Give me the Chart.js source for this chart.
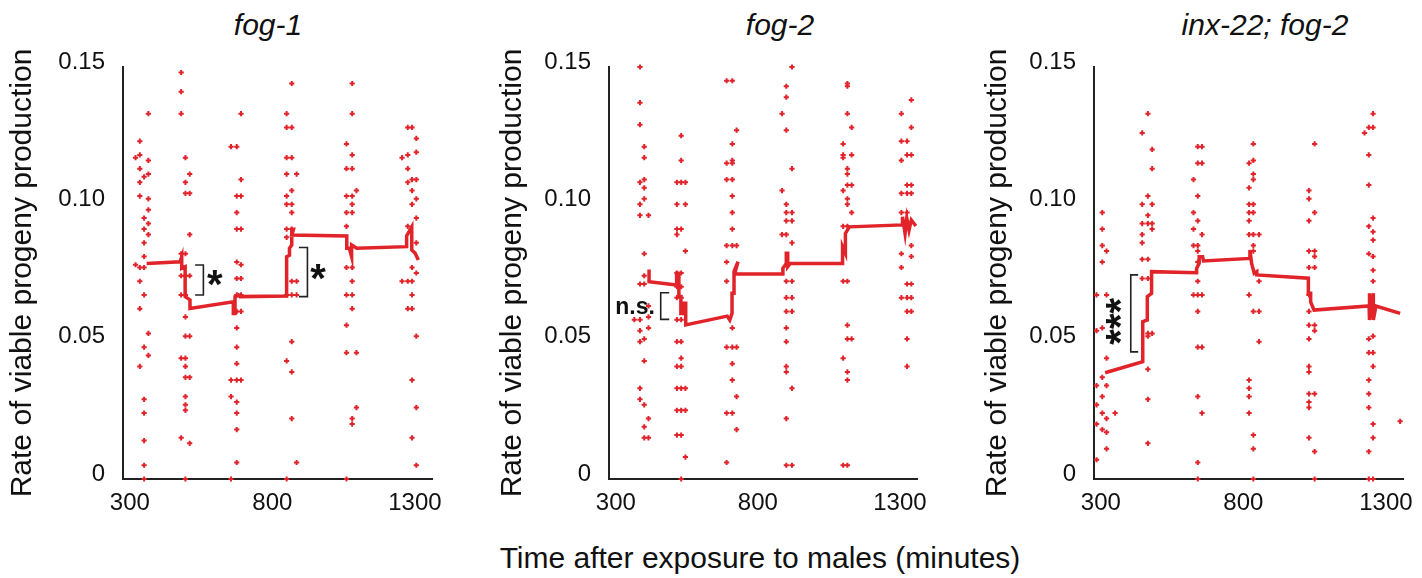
<!DOCTYPE html>
<html>
<head>
<meta charset="utf-8">
<script src="https://cdn.jsdelivr.net/npm/chart.js@4.4.1/dist/chart.umd.min.js"></script>
<style>
  body { margin: 0; background: #fff; width: 1422px; height: 578px; overflow: hidden; position: relative; }
  canvas { position: absolute; top: 0; }
  .ttl { position: absolute; top: 10px; font: italic 30px "Liberation Sans", Arial, sans-serif; line-height: 30px; color: #111; transform: translateX(-50%); white-space: nowrap; }
  #xtitle { position: absolute; top: 543px; left: 760px; font: 30px "Liberation Sans", Arial, sans-serif; line-height: 30px; color: #111; transform: translateX(-50%); white-space: nowrap; }
</style>
</head>
<body>
<div id="xtitle">Time after exposure to males (minutes)</div>
<script>
const timeTicks = [300, 800, 1300]
const rateTicks = [0, 0.05, 0.10, 0.15]
const panelTitles = ["fog-1", "fog-2", "inx-22; fog-2"]

// [minutes, rate] for each animal
const fog1Points = [
  [365,.133],[335,.123],[320,.117],[335,.118],[335,.113],[365,.116],[365,.111],[350,.110],[335,.108],[335,.103],[365,.102],[365,.098],[350,.095],[365,.093],[350,.091],[365,.089],[350,.086],[350,.081],[320,.078],[335,.077],[350,.077],[335,.072],[350,.067],[335,.062],[365,.053],[350,.048],[365,.045],[335,.041],[350,.029],[350,.024],[350,.014],[350,.005],[350,0],
  [480,.148],[480,.141],[480,.133],[495,.117],[510,.111],[495,.108],[495,.104],[510,.104],[510,.089],[480,.082],[495,.082],[480,.074],[495,.074],[510,.074],[480,.067],[495,.067],[495,.059],[495,.052],[510,.052],[480,.044],[495,.044],[495,.041],[495,.037],[510,.037],[495,.030],[495,.027],[495,.025],[480,.015],[510,.013],[495,0],
  [690,.133],[655,.121],[675,.121],[690,.109],[675,.103],[690,.103],[675,.097],[675,.091],[690,.091],[675,.079],[690,.078],[675,.073],[690,.073],[675,.067],[690,.067],[675,.061],[690,.061],[675,.055],[675,.048],[675,.042],[655,.036],[675,.036],[690,.036],[655,.030],[675,.028],[675,.024],[675,.018],[675,.006],[655,0],
  [868,.144],[850,.133],[850,.128],[868,.128],[850,.117],[868,.117],[850,.111],[885,.111],[868,.105],[850,.103],[850,.100],[868,.100],[868,.097],[850,.091],[868,.091],[850,.088],[868,.072],[885,.072],[850,.067],[868,.067],[885,.067],[868,.050],[850,.043],[868,.039],[868,.022],[885,.006],[850,0],
  [1080,.144],[1080,.133],[1060,.122],[1080,.118],[1060,.113],[1080,.113],[1060,.103],[1080,.103],[1095,.105],[1080,.100],[1060,.097],[1080,.097],[1060,.092],[1060,.077],[1080,.077],[1080,.072],[1060,.067],[1080,.067],[1080,.062],[1060,.056],[1060,.046],[1095,.046],[1095,.026],[1080,.022],[1080,.020],[1060,0],
  [1275,.128],[1290,.128],[1305,.124],[1305,.119],[1255,.117],[1275,.118],[1275,.113],[1290,.109],[1305,.109],[1275,.108],[1290,.105],[1305,.102],[1290,.100],[1305,.095],[1275,.092],[1305,.086],[1290,.077],[1305,.075],[1255,.072],[1275,.072],[1290,.072],[1290,.067],[1275,.062],[1290,.062],[1305,.052],[1290,.036],[1305,.026],[1290,.015],[1305,.005]
]
const fog1Mean = [
  [359,.0785],[476,.0791],[482,.0809],[482,.0767],[494,.0773],[494,.0664],[511,.0652],[511,.0621],[663,.0645],[663,.0603],[669,.0603],[669,.0664],[681,.0670],[687,.0664],[850,.0666],[850,.0809],[860,.0815],[860,.0840],[868,.0852],[868,.0909],[874,.0909],[868,.0888],[1061,.0885],[1061,.0840],[1070,.0840],[1078,.0809],[1078,.0852],[1096,.0840],[1271,.0846],[1271,.0885],[1289,.0918],[1289,.0834],[1301,.0822],[1312,.0797]
]

const fog2Points = [
  [385,.150],[385,.137],[385,.129],[400,.121],[400,.117],[400,.109],[385,.108],[400,.106],[400,.102],[385,.100],[385,.096],[415,.096],[400,.082],[400,.074],[385,.071],[400,.071],[415,.063],[365,.058],[385,.058],[415,.059],[385,.054],[415,.055],[385,.050],[400,.051],[400,.043],[385,.033],[385,.029],[400,.027],[415,.022],[400,.019],[400,.015],[415,.015],
  [530,.125],[530,.116],[515,.108],[530,.108],[545,.108],[515,.100],[545,.100],[515,.091],[530,.091],[515,.089],[545,.083],[515,.075],[530,.075],[515,.070],[530,.070],[515,.066],[530,.066],[515,.058],[530,.058],[515,.050],[530,.050],[530,.044],[515,.041],[530,.041],[515,.033],[530,.033],[545,.033],[515,.025],[530,.025],[545,.025],[515,.016],[530,.016],[545,.008],[530,0],
  [690,.145],[710,.145],[725,.127],[710,.122],[710,.116],[690,.115],[710,.115],[690,.109],[710,.109],[710,.103],[710,.097],[710,.091],[690,.085],[710,.085],[725,.085],[690,.079],[690,.072],[710,.055],[690,.048],[710,.048],[725,.048],[710,.042],[710,.036],[725,.030],[690,.024],[710,.024],[725,.018],[690,.006],
  [920,.150],[900,.143],[900,.139],[885,.133],[900,.127],[920,.113],[885,.105],[900,.100],[900,.097],[920,.097],[900,.094],[920,.094],[885,.089],[900,.089],[920,.086],[900,.072],[920,.072],[900,.066],[920,.066],[900,.061],[920,.061],[900,.055],[900,.050],[900,.041],[900,.039],[920,.033],[900,.022],[900,.005],[920,.005],
  [1115,.144],[1115,.143],[1115,.133],[1130,.128],[1100,.122],[1100,.118],[1100,.117],[1130,.118],[1115,.113],[1115,.111],[1115,.107],[1130,.107],[1100,.105],[1115,.102],[1115,.100],[1130,.097],[1100,.092],[1115,.092],[1100,.072],[1115,.072],[1115,.056],[1115,.051],[1130,.051],[1100,.044],[1115,.039],[1115,.036],[1100,.005],[1115,.005],
  [1340,.138],[1305,.133],[1340,.128],[1305,.123],[1325,.123],[1305,.116],[1325,.118],[1340,.118],[1325,.107],[1340,.107],[1305,.104],[1325,.104],[1340,.104],[1305,.097],[1325,.097],[1340,.085],[1305,.082],[1340,.081],[1305,.077],[1325,.071],[1340,.071],[1305,.066],[1325,.066],[1340,.066],[1325,.061],[1340,.061],[1325,.051],[1325,.041]
]
const fog2Mean = [
  [417,.0763],[417,.0718],[514,.0706],[514,.0749],[522,.0749],[522,.0664],[529,.0664],[529,.0603],[537,.0603],[537,.0640],[546,.0640],[546,.0561],[692,.0593],[701,.0579],[709,.0603],[709,.0676],[716,.0676],[716,.0755],[730,.0791],[718,.0746],[888,.0746],[888,.0767],[900,.0785],[900,.0822],[905,.0822],[905,.0773],[914,.0785],[1098,.0785],[1098,.0846],[1108,.0822],[1108,.0894],[1122,.0918],[1309,.0925],[1309,.0955],[1318,.0894],[1324,.0949],[1332,.0906],[1340,.0943],[1356,.0921]
]

const inxPoints = [
  [305,.097],[305,.091],[305,.085],[320,.083],[305,.079],[285,.067],[320,.067],[285,.054],[305,.055],[320,.044],[305,.037],[285,.034],[320,.034],[305,.030],[285,.027],[305,.024],[350,.024],[320,.022],[285,.020],[305,.018],[320,.017],[320,.011],[285,.007],
  [465,.133],[445,.126],[480,.120],[480,.113],[465,.103],[445,.100],[480,.100],[465,.096],[445,.093],[465,.093],[480,.093],[480,.091],[445,.089],[445,.086],[445,.080],[465,.080],[445,.073],[465,.073],[465,.053],[480,.053],[465,.052],[465,.040],[465,.029],[465,.013],
  [640,.121],[655,.121],[640,.115],[655,.115],[625,.109],[640,.103],[625,.097],[640,.094],[625,.091],[655,.089],[625,.085],[640,.085],[640,.083],[640,.079],[640,.072],[625,.067],[640,.067],[655,.067],[640,.061],[640,.048],[655,.048],[640,.030],[655,.024],[640,.006],[640,0],
  [835,.122],[835,.116],[820,.115],[835,.111],[835,.109],[820,.106],[820,.100],[835,.100],[820,.097],[835,.097],[820,.094],[820,.089],[835,.089],[855,.089],[835,.085],[835,.083],[855,.072],[820,.067],[835,.061],[855,.061],[855,.050],[820,.036],[820,.033],[820,.030],[820,.024],[835,.016],[835,.011],[835,0],
  [1050,.122],[1030,.105],[1030,.102],[1050,.097],[1030,.094],[1030,.083],[1050,.083],[1050,.081],[1030,.077],[1050,.077],[1030,.067],[1030,.061],[1030,.056],[1050,.056],[1050,.054],[1030,.051],[1030,.041],[1030,.039],[1030,.031],[1050,.031],[1030,.028],[1030,.026],[1030,.015],[1050,.010],[1050,0],
  [1255,.133],[1240,.128],[1255,.128],[1225,.126],[1240,.118],[1240,.107],[1255,.095],[1240,.092],[1255,.090],[1255,.087],[1240,.082],[1255,.081],[1255,.076],[1255,.072],[1240,.051],[1255,.052],[1240,.046],[1255,.046],[1255,.041],[1240,.036],[1240,.031],[1240,.026],[1255,.020],[1255,.015],[1240,.010],[1240,0],[1255,0],[1350,.021]
]
const inxMean = [
  [315,.0387],[447,.0427],[447,.0573],[463,.0579],[463,.0664],[478,.0676],[478,.0755],[636,.0751],[636,.0767],[645,.0785],[645,.0809],[657,.0809],[660,.0794],[823,.0803],[823,.0834],[829,.0785],[838,.0749],[847,.0755],[847,.0743],[1028,.0731],[1028,.0676],[1036,.0676],[1036,.0645],[1048,.0615],[1241,.0630],[1241,.0676],[1244,.0579],[1256,.0676],[1256,.0579],[1265,.0630],[1350,.0603]
]

const RED = "#e1232a"
Chart.defaults.font.family = '"Liberation Sans", Arial, sans-serif'
Chart.defaults.color = "#111"

// brackets and significance marks, given in data units
const sigPlugin = {
  id: "sig",
  afterDatasetsDraw(chart, args, opts) {
    const { ctx, scales: { x, y } } = chart
    ctx.save()
    ctx.strokeStyle = "#222"
    ctx.lineWidth = 1.6
    for (const b of opts.brackets || []) {
      const x0 = x.getPixelForValue(b.x0), x1 = x.getPixelForValue(b.x1)
      const y0 = y.getPixelForValue(b.y0), y1 = y.getPixelForValue(b.y1)
      const xv = b.side === "right" ? x1 : x0
      const xe = b.side === "right" ? x0 : x1
      ctx.beginPath()
      ctx.moveTo(xe, y1)
      ctx.lineTo(xv, y1)
      ctx.lineTo(xv, y0)
      ctx.lineTo(xe, y0)
      ctx.stroke()
    }
    ctx.fillStyle = "#111"
    for (const l of opts.labels || []) {
      ctx.save()
      ctx.font = "bold " + l.size + 'px "Liberation Sans", Arial, sans-serif'
      ctx.textAlign = "left"
      ctx.textBaseline = "alphabetic"
      ctx.translate(x.getPixelForValue(l.x), y.getPixelForValue(l.y))
      ctx.rotate(l.rot || 0)
      const m = ctx.measureText(l.text)
      ctx.fillText(l.text, -(m.actualBoundingBoxRight - m.actualBoundingBoxLeft) / 2,
        (m.actualBoundingBoxAscent - m.actualBoundingBoxDescent) / 2)
      ctx.restore()
    }
    ctx.restore()
  }
}

const panels = [
  { left: 0, yWidth: 123, width: 444, title: panelTitles[0], titleX: 268, points: fog1Points, mean: fog1Mean,
    sig: { brackets: [{ x0: 529, x1: 558, y0: .067, y1: .0779, side: "right" }, { x0: 893, x1: 923, y0: .0664, y1: .0843, side: "right" }],
           labels: [{ text: "*", x: 599, y: .0732, size: 40 }, { text: "*", x: 961, y: .0755, size: 40 }] } },
  { left: 490, yWidth: 119, width: 439, title: panelTitles[1], titleX: 780, points: fog2Points, mean: fog2Mean,
    sig: { brackets: [{ x0: 458, x1: 488, y0: .0581, y1: .0678, side: "left" }],
           labels: [{ text: "n.s.", x: 367, y: .0625, size: 23 }] } },
  { left: 975, yWidth: 119, width: 440, title: panelTitles[2], titleX: 1265, points: inxPoints, mean: inxMean,
    sig: { brackets: [{ x0: 405, x1: 431, y0: .0463, y1: .0743, side: "left" }],
           labels: [{ text: "***", x: 346, y: .0575, size: 40, rot: -Math.PI / 2 }] } }
]

const toXY = arr => arr.map(([x, y]) => ({ x, y }))

panels.forEach(p => {
  const t = document.createElement("div")
  t.className = "ttl"
  t.style.left = p.titleX + "px"
  t.textContent = p.title
  document.body.appendChild(t)

  const canvas = document.createElement("canvas")
  canvas.width = p.width
  canvas.height = 578
  canvas.style.left = p.left + "px"
  document.body.appendChild(canvas)

  new Chart(canvas.getContext("2d"), {
    type: "scatter",
    data: {
      datasets: [
        {
          type: "line",
          data: toXY(p.mean),
          borderColor: RED,
          borderWidth: 3.5,
          pointRadius: 0,
          tension: 0,
          fill: false,
          clip: false,
          order: 0,
        },
        {
          data: toXY(p.points),
          pointStyle: "cross",
          pointRadius: 2.6,
          borderWidth: 2,
          borderColor: RED,
          backgroundColor: RED,
          clip: false,
          order: 1,
        },
      ],
    },
    options: {
      responsive: false,
      animation: false,
      events: [],
      layout: { padding: { top: 67, right: 12, left: 0, bottom: 0 } },
      plugins: { legend: { display: false }, tooltip: { enabled: false }, sig: p.sig },
      scales: {
        x: {
          type: "linear",
          min: 276,
          max: 1360,
          afterBuildTicks: s => { s.ticks = timeTicks.map(v => ({ value: v })) },
          afterFit: s => { s.height = 99; s.paddingLeft = 0; s.paddingRight = 0 },
          grid: { display: false, drawTicks: false },
          border: { color: "#222", width: 2 },
          ticks: { padding: 10, font: { size: 24 }, color: "#111", callback: v => String(v) },
        },
        y: {
          min: 0,
          max: 0.15,
          afterBuildTicks: s => { s.ticks = rateTicks.map(v => ({ value: v })) },
          afterFit: s => { s.width = p.yWidth; s.paddingTop = 0; s.paddingBottom = 0 },
          grid: { display: false, drawTicks: false },
          border: { color: "#222", width: 2 },
          ticks: {
            padding: 18,
            labelOffset: -5,
            font: { size: 24 },
            color: "#111",
            callback: v => (v === 0 ? "0" : v.toFixed(2)),
          },
          title: {
            display: true,
            text: "Rate of viable progeny production",
            font: { size: 30 },
            color: "#111",
            padding: { top: 5, bottom: 0 },
          },
        },
      },
    },
    plugins: [sigPlugin],
  })
})
</script>
</body>
</html>
